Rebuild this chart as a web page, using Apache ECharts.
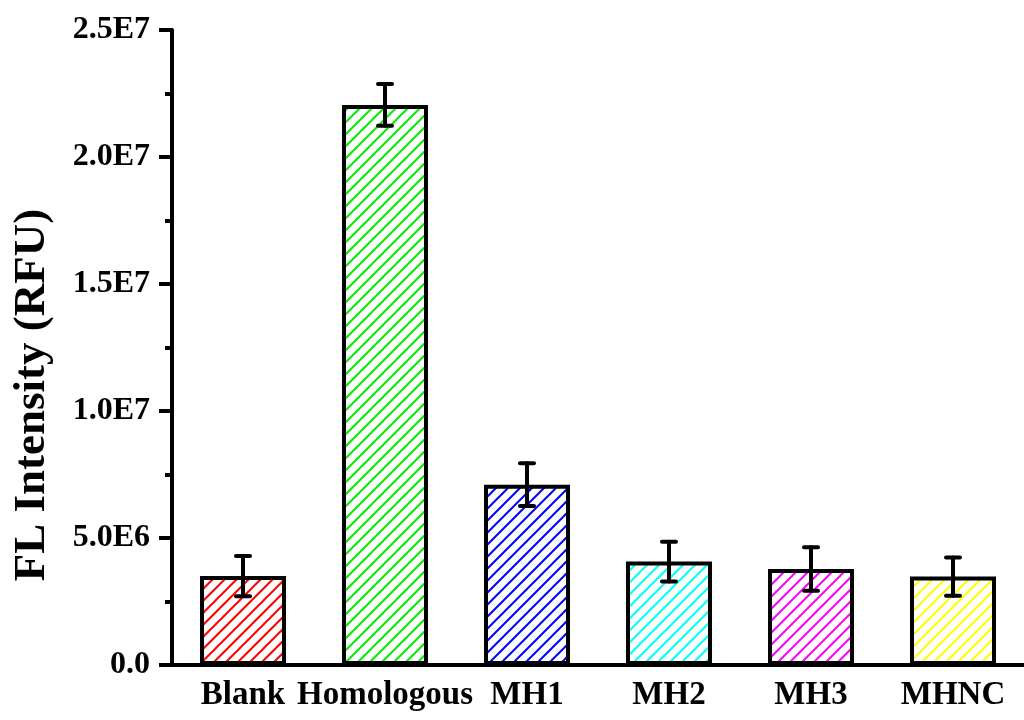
<!DOCTYPE html>
<html>
<head>
<meta charset="utf-8">
<script src="https://cdn.jsdelivr.net/npm/echarts@6/dist/echarts.min.js"></script>
<style>
  html, body { margin: 0; padding: 0; background: #fff; }
  #main { width: 1024px; height: 720px; }
</style>
</head>
<body>
<div id="main"></div>
<script>
// data
const categories = ['Blank', 'Homologous', 'MH1', 'MH2', 'MH3', 'MHNC'];
const intensity = [3.5e6, 2.205e7, 7.1e6, 4.07e6, 3.78e6, 3.48e6];
const errors = [0.79e6, 0.82e6, 0.84e6, 0.78e6, 0.86e6, 0.75e6];
const barColors = ['#ff0000', '#00ee00', '#0000ff', '#00ffff', '#ff00ff', '#ffff00'];
const yTicks = [0, 5e6, 1e7, 1.5e7, 2e7, 2.5e7];

const FONT = "'Liberation Serif', 'Times New Roman', serif";

// diagonal hatch fill, lines going up to the right
function makeHatch(color) {
  const s = 12;
  const c = document.createElement('canvas');
  c.width = s;
  c.height = s;
  const ctx = c.getContext('2d');
  ctx.strokeStyle = color;
  ctx.lineWidth = 2;
  ctx.beginPath();
  ctx.moveTo(0, s); ctx.lineTo(s, 0);
  ctx.moveTo(-2, 2); ctx.lineTo(2, -2);
  ctx.moveTo(s - 2, s + 2); ctx.lineTo(s + 2, s - 2);
  ctx.stroke();
  return { image: c, repeat: 'repeat' };
}

function sciLabel(v) {
  if (v === 0) return '0.0';
  const e = Math.floor(Math.log10(v) + 1e-9);
  return (v / Math.pow(10, e)).toFixed(1) + 'E' + e;
}

const chart = echarts.init(document.getElementById('main'));

const option = {
  animation: false,
  backgroundColor: '#fff',
  grid: { left: 172, top: 30, width: 860, bottom: 55 },
  graphic: [{
    type: 'text',
    x: 32,
    y: 395,
    rotation: Math.PI / 2,
    style: {
      text: 'FL Intensity (RFU)',
      fill: '#000',
      font: "bold 45px 'Liberation Serif', 'Times New Roman', serif",
      align: 'center',
      verticalAlign: 'middle'
    }
  }],
  xAxis: [
    {
      type: 'category',
      data: categories,
      axisLine: { lineStyle: { color: '#000', width: 4 } },
      axisTick: { alignWithLabel: true, interval: 0, length: 11, lineStyle: { color: '#000', width: 4 } },
      axisLabel: { interval: 0, color: '#000', fontFamily: FONT, fontWeight: 'bold', fontSize: 33, margin: 14 }
    },
    {
      type: 'category',
      data: categories,
      position: 'bottom',
      axisLine: { show: false },
      axisTick: { interval: 0, length: 6, lineStyle: { color: '#000', width: 4 } },
      axisLabel: { show: false }
    }
  ],
  yAxis: {
    type: 'value',
    min: yTicks[0],
    max: yTicks[yTicks.length - 1],
    interval: yTicks[1] - yTicks[0],
    axisLine: { show: true, lineStyle: { color: '#000', width: 4 } },
    axisTick: { show: true, length: 13, lineStyle: { color: '#000', width: 4 } },
    minorTick: { show: true, splitNumber: 2, length: 7, lineStyle: { color: '#000', width: 4 } },
    splitLine: { show: false },
    axisLabel: {
      color: '#000', fontFamily: FONT, fontWeight: 'bold', fontSize: 32, margin: 22,
      formatter: sciLabel
    }
  },
  series: [
    {
      type: 'bar',
      barWidth: 86,
      data: intensity.map((v, i) => ({
        value: v,
        itemStyle: { color: makeHatch(barColors[i]), borderColor: '#000', borderWidth: 4 }
      })),
      z: 2
    },
    {
      type: 'custom',
      z: 5,
      data: intensity.map((v, i) => [i, v - errors[i], v + errors[i]]),
      renderItem: function (params, api) {
        const lo = api.coord([api.value(0), api.value(1)]);
        const hi = api.coord([api.value(0), api.value(2)]);
        const half = 7;
        const style = { stroke: '#000', lineWidth: 4, lineCap: 'round' };
        return {
          type: 'group',
          children: [
            { type: 'line', shape: { x1: lo[0], y1: lo[1], x2: hi[0], y2: hi[1] }, style: style },
            { type: 'line', shape: { x1: hi[0] - half, y1: hi[1], x2: hi[0] + half, y2: hi[1] }, style: style },
            { type: 'line', shape: { x1: lo[0] - half, y1: lo[1], x2: lo[0] + half, y2: lo[1] }, style: style }
          ]
        };
      }
    }
  ]
};

chart.setOption(option);
</script>
</body>
</html>
